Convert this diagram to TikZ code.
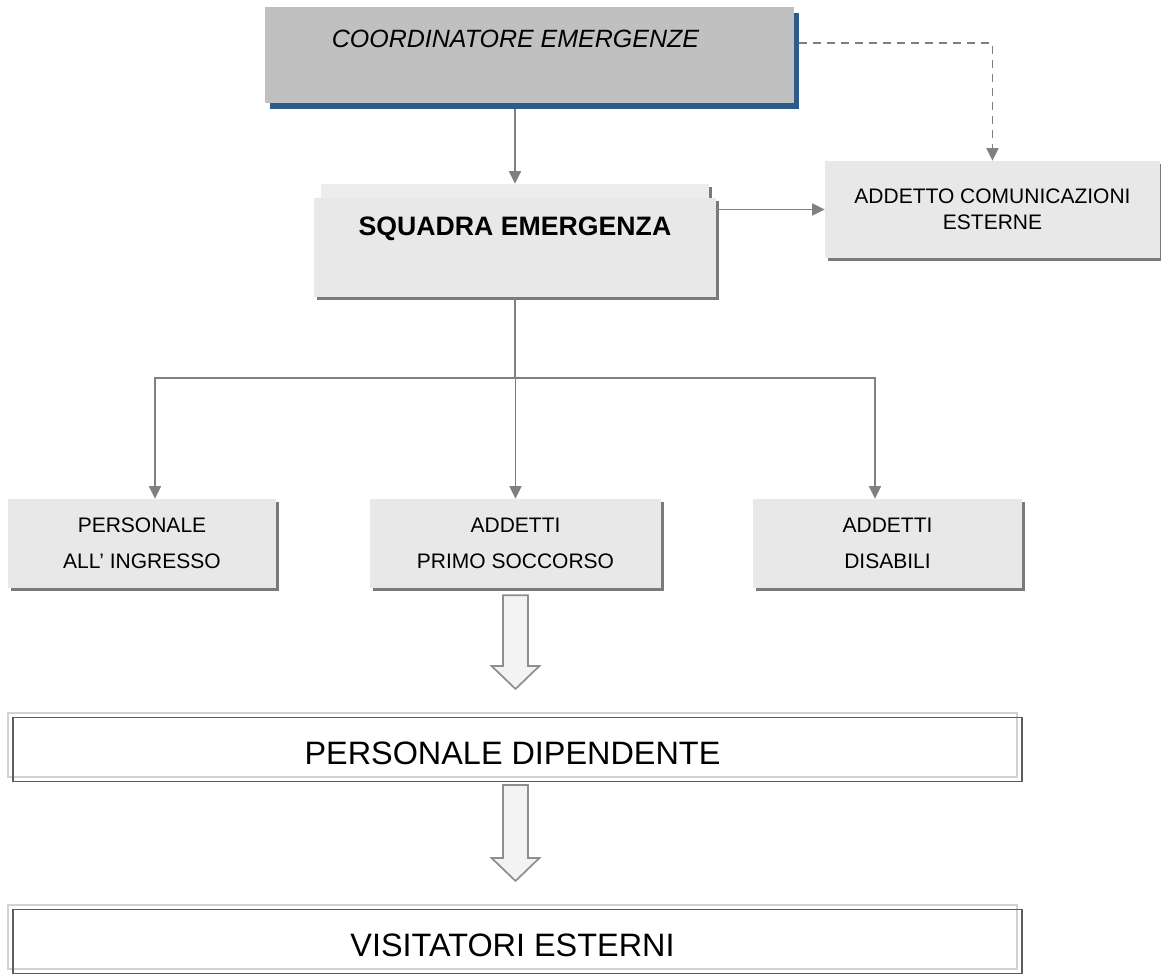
\documentclass[tikz,border=0pt]{standalone}
\usepackage{fontspec}
\setmainfont{Liberation Sans}
\usetikzlibrary{arrows.meta,calc}

\definecolor{boxgray}{HTML}{E8E8E8}
\definecolor{backgray}{HTML}{EDEDED}
\definecolor{coordgray}{HTML}{C0C0C0}
\definecolor{shadowblue}{HTML}{2E5C8A}
\definecolor{shadowgray}{HTML}{7A7A7A}
\definecolor{linegray}{HTML}{808080}
\definecolor{framelight}{HTML}{D2D2D2}
\definecolor{framedark}{HTML}{5E5E5E}
\definecolor{arrowfill}{HTML}{F3F3F3}
\definecolor{arrowline}{HTML}{8E8E8E}

\begin{document}
\begin{tikzpicture}[
      x=0.75pt, y=-0.75pt,
      coordbox/.style={
         fill=coordgray,
         preaction={fill=shadowblue, transform canvas={shift={(3.75pt,-4.5pt)}}},
         inner sep=0pt,
         minimum width=396.75pt, minimum height=72pt,
         text height=14pt, text depth=24.5pt,
         font=\fontsize{18.75}{22}\selectfont\itshape},
      graybox/.style={
         fill=boxgray,
         preaction={fill=shadowgray, transform canvas={shift={(2.25pt,-2.25pt)}}},
         inner sep=0pt},
      teambox/.style={
         graybox, align=center,
         minimum height=66.75pt,
         execute at begin node={\rule{0pt}{18pt}},
         font=\fontsize{15.75}{27}\selectfont},
      framebox/.style={
         draw=framelight, line width=1.6pt,
         postaction={draw=framedark, line width=1pt, transform canvas={shift={(3.75pt,-3.4pt)}}},
         inner sep=0pt,
         minimum width=756.75pt, minimum height=48pt,
         text height=29pt, text depth=0pt,
         font=\fontsize{24.3}{28}\selectfont},
      link/.style={draw=linegray, line width=1.3pt},
      conn/.style={link, -{Triangle[length=9.5pt,width=9pt]}},
      dashconn/.style={conn, dash pattern=on 6pt off 4.5pt},
      blockarrow/.style={fill=arrowfill, draw=arrowline, line width=1.3pt, line join=miter}
      ]
      \useasboundingbox (0,0) rectangle (1161,977);

      \node[coordbox] (coord) at (529.5,55) {COORDINATORE EMERGENZE\hspace*{21pt}};
      \node[graybox,fill=backgray,minimum width=291pt,minimum height=22.5pt] (sqb) at (515,199) {};
      \node[graybox,minimum width=301.5pt,minimum height=74.25pt,
            text height=14.3pt,text depth=33pt,
            font=\fontsize{20}{24}\selectfont\bfseries] (sq) at (515,247.5) {SQUADRA EMERGENZA};
      \node[graybox,align=center,minimum width=251.25pt,minimum height=72.75pt,
            font=\fontsize{15.75}{19.5}\selectfont] (com) at (992.5,209.5) {ADDETTO COMUNICAZIONI\\ESTERNE};

      \node[teambox,minimum width=201pt] (pi) at (142,543.5) {PERSONALE\\ALL’ INGRESSO};
      \node[teambox,minimum width=218.25pt] (pso) at (515.5,543.5) {ADDETTI\\PRIMO SOCCORSO};
      \node[teambox,minimum width=201.75pt] (pd) at (887.5,543.5) {ADDETTI\\DISABILI};

      \node[framebox] (dip) at (512.5,745) {PERSONALE DIPENDENTE};
      \node[framebox] (vis) at (512.5,937) {VISITATORI ESTERNI};

      % links from the top
      \draw[conn,shorten <=4.5pt] (coord.south -| sqb.north) -- (sqb.north);
      \draw[dashconn,shorten <=3.75pt] ([yshift=9pt]coord.east) -| (com.north);
      \draw[conn] (com.west -| sq.east) -- (com.west);

      \coordinate (split) at (515,378);
      \draw[link] (sq.south) -- (split);
      \foreach \n/\dx in {% node/shift of the arrow
        pi/9.75pt,
        pso/0pt,
        pd/-9.4pt}
        \draw[conn] (split) -| ([xshift=\dx]\n.north);

      % block arrows
      \foreach \from/\to in {pso/dip, dip/vis}
        \draw[blockarrow] ($(\from.south -| pso.south)+(-12.5,7)$)
          -- ($(\to.north -| pso.south)+(-12.5,-46)$) -- ++(-11.5,0)
          -- ($(\to.north -| pso.south)+(0,-23)$)
          -- ($(\to.north -| pso.south)+(24,-46)$) -- ++(-11.5,0)
          -- ($(\from.south -| pso.south)+(12.5,7)$) -- cycle;
\end{tikzpicture}
\end{document}
